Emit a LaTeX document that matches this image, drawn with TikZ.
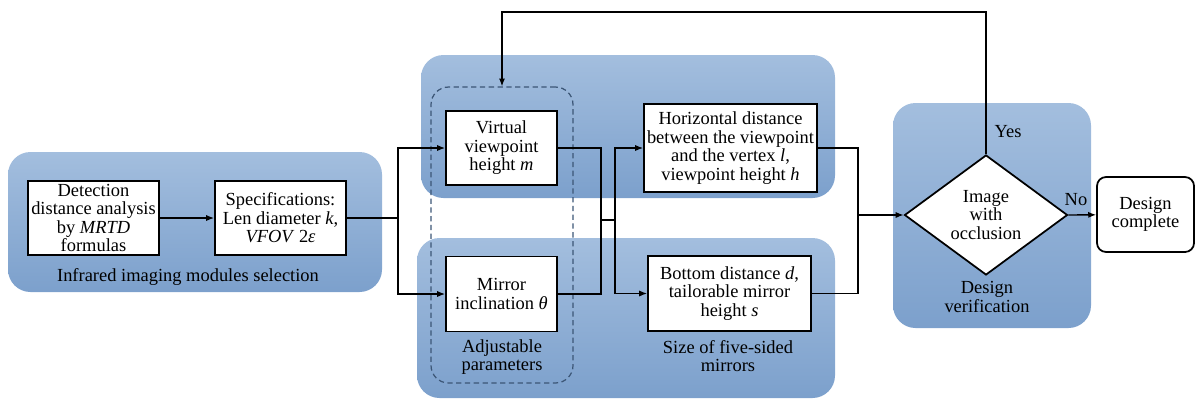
\documentclass[tikz,border=0pt]{standalone}
\usepackage{fontspec}
\setmainfont{Liberation Serif}
\usetikzlibrary{shapes.geometric,arrows.meta}
\definecolor{panelTop}{RGB}{163,190,222}
\definecolor{panelBot}{RGB}{124,160,204}
\definecolor{dashBlue}{RGB}{60,86,118}

\begin{document}
\begin{tikzpicture}[x=0.02cm,y=-0.02cm,
    font=\fontsize{10.5}{10.5}\selectfont,
    panel/.style={top color=panelTop, bottom color=panelBot, rounded corners=0.45cm},
    box/.style={draw, line width=1pt, fill=white, align=center, inner sep=0pt},
    flow/.style={line width=0.8pt, -{Latex[length=4.5pt,width=3.5pt]}},
    wire/.style={line width=0.8pt},
    lbl/.style={align=center, inner sep=0pt}]
    \useasboundingbox (0,0) rectangle (1195,400);

    % blue panels
    \shade[panel] (8,152) rectangle (382,292);
    \shade[panel] (421,55) rectangle (835,198);
    \shade[panel] (417,238) rectangle (835,398);
    \shade[panel] (893,103) rectangle (1091,328);

    \node[draw=dashBlue, dash pattern=on 3pt off 2pt, line width=0.7pt, rounded corners=0.35cm,
        minimum width=2.84cm, minimum height=5.92cm] (adj) at (502,235) {};

    % boxes
    \node[box, minimum width=2.62cm, minimum height=1.48cm] (det) at (93.5,218)
        {Detection\\distance analysis\\by \textit{MRTD}\\formulas};
    \node[box, minimum width=2.62cm, minimum height=1.48cm] (spec) at (280.5,218)
        {Specifications:\\Len diameter \textit{k},\\\textit{VFOV} 2\textit{ε}};
    \node[box, minimum width=2.22cm, minimum height=1.48cm] (virt) at (501.5,148)
        {Virtual\\viewpoint\\height \textit{m}};
    \node[box, minimum width=2.22cm, minimum height=1.5cm] (mirr) at (501.5,294)
        {Mirror\\inclination \textit{θ}};
    \node[box, minimum width=3.46cm, minimum height=1.76cm] (horiz) at (730.5,148)
        {Horizontal distance\\between the viewpoint\\and the vertex \textit{l},\\viewpoint height \textit{h}};
    \node[box, minimum width=3.26cm, minimum height=1.5cm] (bott) at (729.5,293.5)
        {Bottom distance \textit{d},\\tailorable mirror\\height \textit{s}};
    \node[box, shape=diamond, shape aspect=1.36, minimum width=3.26cm, minimum height=2.4cm] (dec) at (986,215)
        {Image\\with\\occlusion};
    \node[box, rounded corners=0.18cm, minimum width=1.94cm, minimum height=1.5cm] (done) at (1145.5,214.5)
        {Design\\complete};

    % panel labels
    \node[lbl] (lblIR) at (188,277) {Infrared imaging modules selection};
    \node[lbl] (lblAdj) at (502,357) {Adjustable\\parameters};
    \node[lbl] (lblSize) at (728,356) {Size of five-sided\\mirrors};
    \node[lbl] (lblVer) at (987,297) {Design\\verification};
    \node[lbl] (yes) at (1008,132) {Yes};
    \node[lbl] (no) at (1076,200) {No};

    % connectors
    \coordinate (split1) at (398,218);
    \coordinate (join1) at (601,220);
    \coordinate (split2) at (615,220);
    \coordinate (join2) at (858,215);
    \coordinate (fbturn) at (986,12);

    \draw[flow] (det) -- (spec);
    \draw[wire] (spec) -- (split1);
    \draw[flow] (split1) |- (virt);
    \draw[flow] (split1) |- (mirr);
    \draw[wire] (virt) -| (join1);
    \draw[wire] (mirr) -| (join1);
    \draw[wire] (join1) -- (split2);
    \draw[flow] (split2) |- (horiz);
    \draw[flow] (split2) |- (bott);
    \draw[wire] (horiz) -| (join2);
    \draw[wire] (bott) -| (join2);
    \draw[flow] (join2) -- (dec);
    \draw[flow] (dec.east) -- (done);
    \draw[flow] (dec.north) -- (fbturn) -| (adj.north);
\end{tikzpicture}
\end{document}
